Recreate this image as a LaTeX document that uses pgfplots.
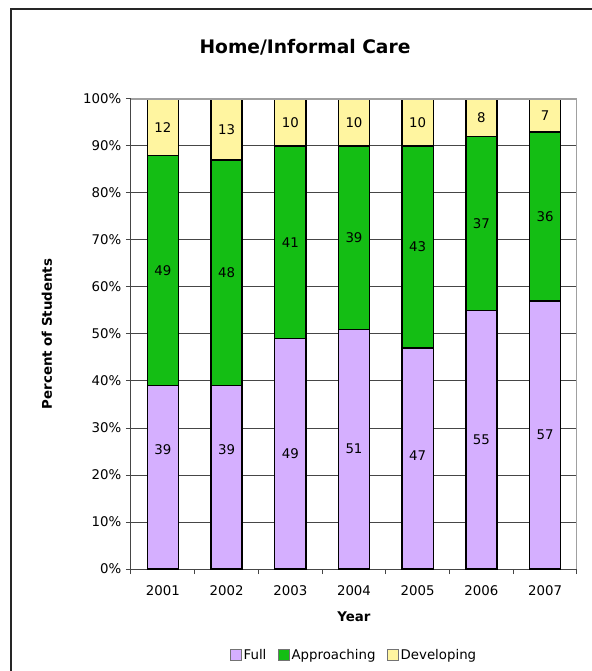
\documentclass[border=0pt]{standalone}
\usepackage{pgfplots}
\pgfplotsset{compat=1.18}
\usepackage{pgfplotstable}
\usepackage{fontspec}
\setmainfont{DejaVu Sans}
\definecolor{fullc}{RGB}{213,175,255}
\definecolor{apprc}{RGB}{20,190,20}
\definecolor{devc}{RGB}{255,245,160}
\definecolor{gridc}{RGB}{70,70,70}
\definecolor{boxc}{RGB}{160,160,160}
\pgfplotstableread{
x full appr dev loff
1 39 49 12 6
2 39 48 13 6
3 49 41 10 0
4 51 39 10 0
5 47 43 10 0.6
6 55 37 8 0
7 57 36 7 0
}\data
\begin{document}
\begin{tikzpicture}
\path[use as bounding box] (-98.25pt,-76.5pt) rectangle (345.75pt,426.75pt);
\fill[black!85] (-90.55pt,-76.5pt) rectangle (-89.45pt,420.55pt);
\fill[black!85] (-90.55pt,419.45pt) rectangle (345.75pt,420.55pt);
\node[font=\bfseries\fontsize{14}{16}\selectfont] at (130.5pt,391.5pt) {Home/Informal Care};
\begin{axis}[
  at={(0pt,0pt)}, anchor=south west,
  scale only axis, width=334.5pt, height=352.5pt,
  ybar stacked, bar width=0.49,
  xmin=0.5, xmax=7.5, ymin=0, ymax=100,
  axis x line*=bottom, axis y line*=left,
  axis line style={gridc, line width=0.75pt},
  tick align=outside,
  major tick length=3.75pt, minor tick length=3.75pt,
  tick style={gridc, line width=0.75pt},
  xtick={1,...,7}, xticklabels={2001,2002,2003,2004,2005,2006,2007},
  major x tick style={draw=none},
  minor xtick={0.5,1.5,...,7.5},
  ytick={0,10,...,100},
  yticklabels={0\%,10\%,20\%,30\%,40\%,50\%,60\%,70\%,80\%,90\%,100\%},
  ymajorgrids, grid style={gridc, line width=0.75pt},
  tick label style={font=\fontsize{10}{12}\selectfont},
  xticklabel style={yshift=-5pt},
  xlabel={Year}, ylabel={Percent of Students},
  xlabel style={font=\bfseries\fontsize{10}{12}\selectfont, at={(axis description cs:0.5,0)}, anchor=center, yshift=-36pt},
  ylabel style={font=\bfseries\fontsize{10}{12}\selectfont, at={(axis description cs:0,0.5)}, anchor=center, yshift=63pt},
  legend style={at={(axis description cs:0.5,0)}, anchor=center, yshift=-64.5pt, draw=none, fill=none,
    font=\fontsize{10}{12}\selectfont, legend columns=-1,
    /tikz/every even column/.append style={column sep=7pt},
    nodes={inner xsep=1.5pt, inner ysep=1pt}},
  legend image code/.code={\draw[#1, draw=black!55, line width=0.6pt] (0pt,-4.1pt) rectangle (8.25pt,4.1pt);},
  nodes near coords={\pgfplotspointmeta},
  point meta=explicit symbolic,
  every node near coord/.append style={anchor=center, font=\fontsize{10}{12}\selectfont, text=black},
]
\draw[boxc, line width=1pt] (rel axis cs:0,1) -- (rel axis cs:1,1) -- (rel axis cs:1,0);
\addplot[fill=fullc, draw=black, line width=1.1pt,
  visualization depends on={\thisrow{loff} \as \loff},
  every node near coord/.append style={yshift=\loff*3.525pt}]
  table[x=x, y=full, meta=full] {\data};
\addplot[fill=apprc, draw=black, line width=1.1pt]
  table[x=x, y=appr, meta=appr] {\data};
\addplot[fill=devc, draw=black, line width=1.1pt]
  table[x=x, y=dev, meta=dev] {\data};
\legend{Full,Approaching,Developing}
\end{axis}
\end{tikzpicture}
\end{document}
